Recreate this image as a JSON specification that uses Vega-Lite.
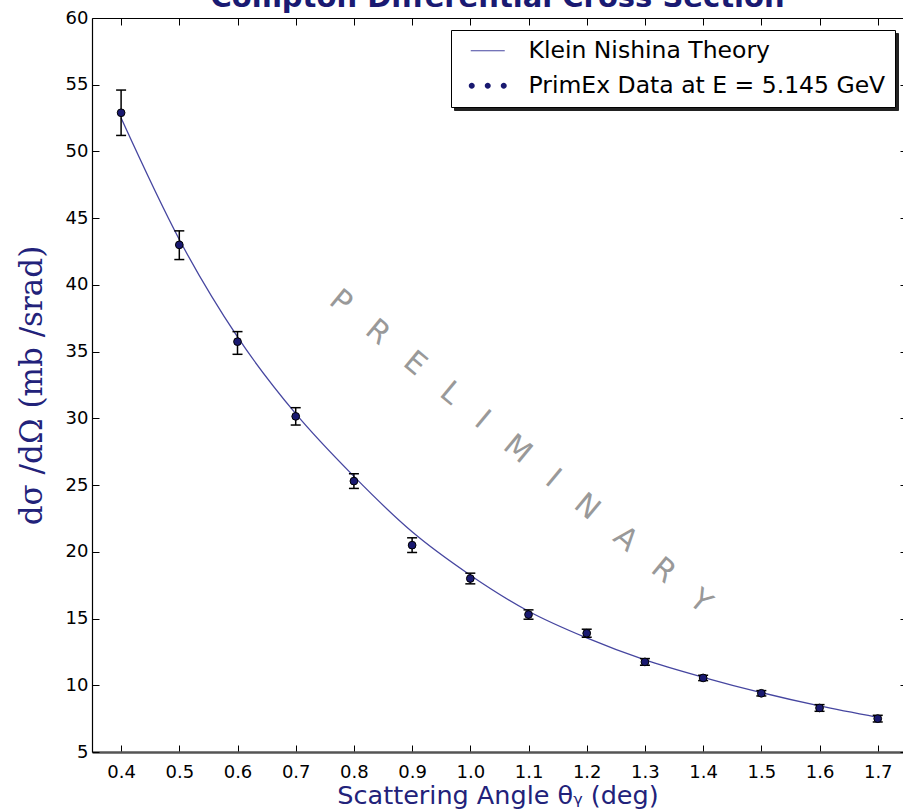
{
  "$schema": "https://vega.github.io/schema/vega-lite/v6.json",
  "width": 811,
  "height": 734,
  "autosize": {"type": "none"},
  "padding": {"left": 92, "top": 18, "right": 0, "bottom": 58},
  "background": "white",
  "title": {
    "text": "Compton Differential Cross Section",
    "font": "DejaVu Sans",
    "fontSize": 29,
    "fontWeight": "bold",
    "color": "#1a1a72",
    "anchor": "middle",
    "baseline": "alphabetic",
    "offset": -27
  },
  "config": {
    "view": {"stroke": null},
    "axis": {
      "labelFont": "DejaVu Sans",
      "labelFontSize": 18,
      "labelColor": "black",
      "tickColor": "black",
      "tickWidth": 1,
      "grid": false
    }
  },
  "datasets": {
    "theory": [
      {"x": 0.4, "y": 52.5, "series": "Klein Nishina Theory"},
      {"x": 0.5, "y": 43.4, "series": "Klein Nishina Theory"},
      {"x": 0.6, "y": 36.1, "series": "Klein Nishina Theory"},
      {"x": 0.7, "y": 30.35, "series": "Klein Nishina Theory"},
      {"x": 0.8, "y": 25.65, "series": "Klein Nishina Theory"},
      {"x": 0.9, "y": 21.5, "series": "Klein Nishina Theory"},
      {"x": 1.0, "y": 18.25, "series": "Klein Nishina Theory"},
      {"x": 1.1, "y": 15.55, "series": "Klein Nishina Theory"},
      {"x": 1.2, "y": 13.55, "series": "Klein Nishina Theory"},
      {"x": 1.3, "y": 11.9, "series": "Klein Nishina Theory"},
      {"x": 1.4, "y": 10.6, "series": "Klein Nishina Theory"},
      {"x": 1.5, "y": 9.45, "series": "Klein Nishina Theory"},
      {"x": 1.6, "y": 8.45, "series": "Klein Nishina Theory"},
      {"x": 1.7, "y": 7.6, "series": "Klein Nishina Theory"}
    ],
    "data": [
      {"x": 0.4, "y": 52.9, "lo": 51.2, "hi": 54.6, "series": "PrimEx Data at E = 5.145 GeV", "series2": "s2"},
      {"x": 0.5, "y": 43.0, "lo": 41.9, "hi": 44.05, "series": "PrimEx Data at E = 5.145 GeV", "series2": "s2"},
      {"x": 0.6, "y": 35.75, "lo": 34.8, "hi": 36.5, "series": "PrimEx Data at E = 5.145 GeV", "series2": "s2"},
      {"x": 0.7, "y": 30.15, "lo": 29.5, "hi": 30.8, "series": "PrimEx Data at E = 5.145 GeV", "series2": "s2"},
      {"x": 0.8, "y": 25.3, "lo": 24.75, "hi": 25.85, "series": "PrimEx Data at E = 5.145 GeV", "series2": "s2"},
      {"x": 0.9, "y": 20.5, "lo": 19.95, "hi": 21.05, "series": "PrimEx Data at E = 5.145 GeV", "series2": "s2"},
      {"x": 1.0, "y": 18.0, "lo": 17.6, "hi": 18.4, "series": "PrimEx Data at E = 5.145 GeV", "series2": "s2"},
      {"x": 1.1, "y": 15.3, "lo": 14.95, "hi": 15.65, "series": "PrimEx Data at E = 5.145 GeV", "series2": "s2"},
      {"x": 1.2, "y": 13.9, "lo": 13.6, "hi": 14.2, "series": "PrimEx Data at E = 5.145 GeV", "series2": "s2"},
      {"x": 1.3, "y": 11.75, "lo": 11.5, "hi": 12.0, "series": "PrimEx Data at E = 5.145 GeV", "series2": "s2"},
      {"x": 1.4, "y": 10.55, "lo": 10.35, "hi": 10.75, "series": "PrimEx Data at E = 5.145 GeV", "series2": "s2"},
      {"x": 1.5, "y": 9.4, "lo": 9.2, "hi": 9.6, "series": "PrimEx Data at E = 5.145 GeV", "series2": "s2"},
      {"x": 1.6, "y": 8.3, "lo": 8.05, "hi": 8.55, "series": "PrimEx Data at E = 5.145 GeV", "series2": "s2"},
      {"x": 1.7, "y": 7.5, "lo": 7.25, "hi": 7.75, "series": "PrimEx Data at E = 5.145 GeV", "series2": "s2"}
    ],
    "mark": [
      {"x": 1.086, "y": 27.5, "label": "P\u00a0\u00a0\u00a0R\u00a0\u00a0\u00a0E\u00a0\u00a0\u00a0L\u00a0\u00a0\u00a0I\u00a0\u00a0\u00a0M\u00a0\u00a0\u00a0I\u00a0\u00a0\u00a0N\u00a0\u00a0\u00a0A\u00a0\u00a0\u00a0R\u00a0\u00a0\u00a0Y"}
    ]
  },
  "layer": [
    {
      "data": {"name": "theory"},
      "mark": {"type": "line", "strokeWidth": 1.3, "interpolate": "monotone"},
      "encoding": {
        "x": {
          "field": "x", "type": "quantitative",
          "scale": {"domain": [0.35, 1.7434], "nice": false, "zero": false},
          "axis": {
            "orient": "bottom",
            "values": [0.4, 0.5, 0.6, 0.7, 0.8, 0.9, 1.0, 1.1, 1.2, 1.3, 1.4, 1.5, 1.6, 1.7],
            "format": ".1f",
            "tickSize": -7,
            "labelPadding": 18,
            "domainColor": "#555555",
            "domainWidth": 2.5,
            "title": "Scattering Angle θᵧ (deg)",
            "titleFont": "DejaVu Sans",
            "titleFontSize": 25.5,
            "titleFontWeight": "normal",
            "titleColor": "#22227a",
            "titlePadding": 2
          }
        },
        "y": {
          "field": "y", "type": "quantitative",
          "scale": {"domain": [5, 60], "nice": false, "zero": false},
          "axis": {
            "orient": "left",
            "values": [5, 10, 15, 20, 25, 30, 35, 40, 45, 50, 55, 60],
            "tickSize": -7,
            "labelPadding": 11,
            "domainColor": "black",
            "domainWidth": 1.2,
            "title": "dσ /dΩ (mb /srad)",
            "titleFont": "DejaVu Serif",
            "titleFontSize": 31,
            "titleFontWeight": "normal",
            "titleColor": "#22227a",
            "titlePadding": 17
          }
        },
        "color": {
          "field": "series", "type": "nominal",
          "scale": {"domain": ["Klein Nishina Theory", "PrimEx Data at E = 5.145 GeV"], "range": ["#4646a0", "#191970"]},
          "legend": {
            "title": null,
            "orient": "none",
            "legendX": 359,
            "legendY": 12,
            "zindex": 2,
            "padding": 9,
            "rowPadding": 10,
            "symbolOffset": 16,
            "symbolSize": 256,
            "symbolStrokeWidth": 0,
            "labelOffset": 29,
            "labelFont": "DejaVu Sans",
            "labelFontSize": 23.5,
            "labelColor": "black",
            "labelLimit": 0,
            "fillColor": "white",
            "strokeColor": "black",
            "encode": {
              "symbols": {
                "update": {
                  "shape": {"signal": "datum.value === 'Klein Nishina Theory' ? 'M-2.125,-0.07H2.125V0.07H-2.125Z' : 'M-2.375,0A0.375,0.375 0 1,0 -1.625,0A0.375,0.375 0 1,0 -2.375,0ZM-0.375,0A0.375,0.375 0 1,0 0.375,0A0.375,0.375 0 1,0 -0.375,0ZM1.625,0A0.375,0.375 0 1,0 2.375,0A0.375,0.375 0 1,0 1.625,0Z'"},
                  "fill": {"signal": "datum.value === 'Klein Nishina Theory' ? '#4646a0' : '#191970'"},
                  "stroke": {"value": "transparent"},
                  "opacity": {"value": 1}
                }
              }
            }
          }
        }
      }
    },
    {
      "data": {"name": "data"},
      "mark": {"type": "rule", "color": "black", "strokeWidth": 1.5},
      "encoding": {
        "x": {"field": "x", "type": "quantitative", "axis": null},
        "y": {"field": "lo", "type": "quantitative", "axis": null},
        "y2": {"field": "hi"}
      }
    },
    {
      "data": {"name": "data"},
      "mark": {"type": "tick", "orient": "horizontal", "color": "black", "size": 10, "thickness": 1.5, "opacity": 1},
      "encoding": {
        "x": {"field": "x", "type": "quantitative", "axis": null},
        "y": {"field": "lo", "type": "quantitative", "axis": null}
      }
    },
    {
      "data": {"name": "data"},
      "mark": {"type": "tick", "orient": "horizontal", "color": "black", "size": 10, "thickness": 1.5, "opacity": 1},
      "encoding": {
        "x": {"field": "x", "type": "quantitative", "axis": null},
        "y": {"field": "hi", "type": "quantitative", "axis": null}
      }
    },
    {
      "data": {"name": "data"},
      "mark": {"type": "point", "filled": true, "shape": "circle", "size": 60, "stroke": "black", "strokeWidth": 1},
      "encoding": {
        "x": {
          "field": "x", "type": "quantitative",
          "axis": {
            "orient": "top",
            "values": [0.4, 0.5, 0.6, 0.7, 0.8, 0.9, 1.0, 1.1, 1.2, 1.3, 1.4, 1.5, 1.6, 1.7],
            "labels": false,
            "tickSize": -7,
            "domainColor": "black",
            "domainWidth": 1,
            "title": null
          }
        },
        "y": {
          "field": "y", "type": "quantitative",
          "axis": {
            "orient": "right",
            "values": [5, 10, 15, 20, 25, 30, 35, 40, 45, 50, 55, 60],
            "labels": false,
            "tickSize": -3,
            "domain": false,
            "title": null
          }
        },
        "color": {"field": "series", "type": "nominal"},
        "opacity": {
          "field": "series2", "type": "nominal",
          "scale": {"domain": ["s1", "s2"], "range": [1, 1]},
          "legend": {
            "title": null,
            "orient": "none",
            "legendX": 362,
            "legendY": 15,
            "zindex": 1,
            "padding": 9,
            "rowPadding": 10,
            "symbolOffset": 16,
            "symbolSize": 256,
            "symbolStrokeWidth": 0,
            "symbolType": "square",
            "symbolFillColor": "#222222",
            "labelOffset": 29,
            "labelFont": "DejaVu Sans",
            "labelFontSize": 23.5,
            "labelColor": "#222222",
            "labelLimit": 0,
            "labelExpr": "datum.value === 's1' ? 'Klein Nishina Theory' : 'PrimEx Data at E = 5.145 GeV'",
            "fillColor": "#222222",
            "strokeColor": "#222222"
          }
        }
      }
    },
    {
      "data": {"name": "mark"},
      "mark": {"type": "text", "angle": 39.8, "font": "DejaVu Sans", "fontSize": 30, "color": "#999999", "align": "center", "baseline": "middle"},
      "encoding": {
        "x": {"field": "x", "type": "quantitative", "axis": null},
        "y": {"field": "y", "type": "quantitative", "axis": null},
        "text": {"field": "label"}
      }
    }
  ],
  "resolve": {"axis": {"x": "independent", "y": "independent"}}
}
